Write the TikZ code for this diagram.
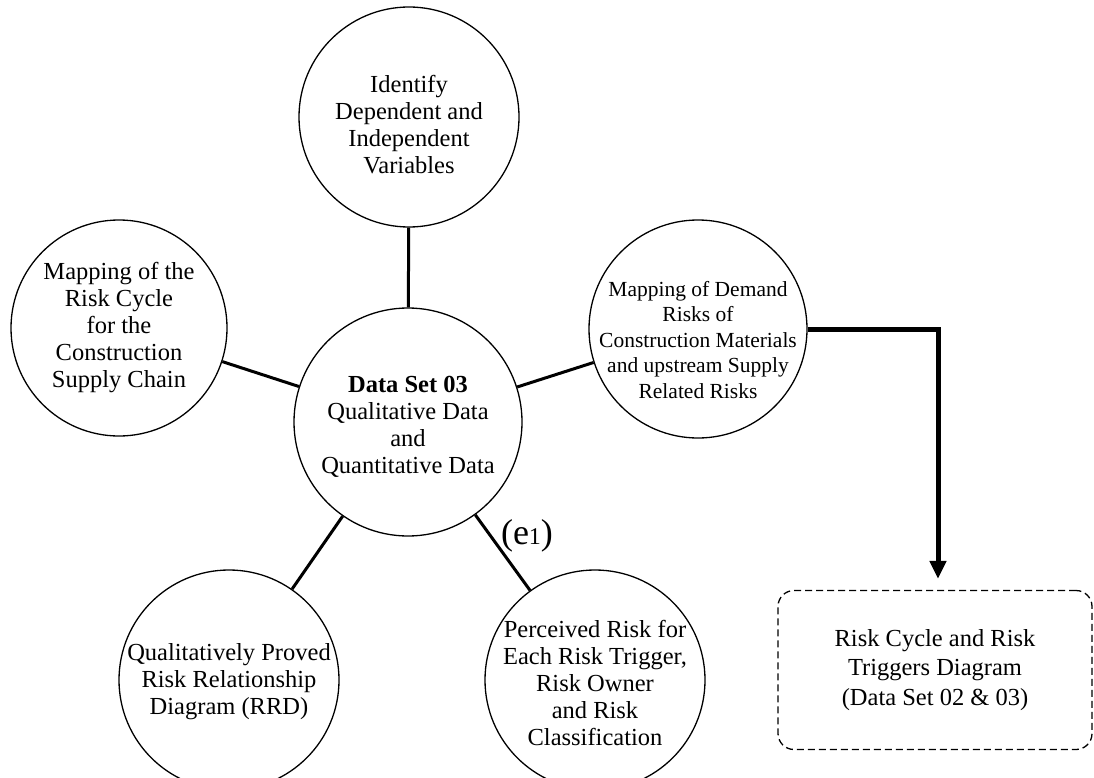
\documentclass[tikz,border=0pt]{standalone}
\usepackage{fontspec}
\setmainfont{Liberation Serif}
\usetikzlibrary{arrows.meta}

\begin{document}
\begin{tikzpicture}[x=1pt,y=-1pt,
  bubble/.style={draw, circle, line width=1.3pt, inner sep=0pt},
  caption/.style={align=center, inner sep=0pt,
    font=\fontsize{24.5}{27}\selectfont},
  link/.style={line width=3pt},
  outcome/.style={draw, rectangle, rounded corners=16pt, line width=1.3pt,
    dash pattern=on 7pt off 4pt, align=center, inner sep=0pt,
    minimum width=314pt, minimum height=159pt,
    font=\fontsize{24.5}{29.5}\selectfont},
  flow/.style={line width=5pt, -{Triangle[length=18pt,width=16pt]}}
]
\useasboundingbox (0,0) rectangle (1094,778);

% central data set
\node[bubble, minimum size=228pt] (hub) at (408,422) {};
\node[caption] (hub-t) at (408,427)
  {\textbf{Data Set 03}\\Qualitative Data\\and\\Quantitative Data};

% surrounding analyses
\node[bubble, minimum size=220pt] (vars) at (409,117) {};
\node[caption] (vars-t) at (409,125)
  {Identify\\Dependent and\\Independent\\Variables};

\node[bubble, minimum size=216pt] (cycle) at (119,328) {};
\node[caption] (cycle-t) at (119,328)
  {Mapping of the\\Risk Cycle\\for the\\Construction\\Supply Chain};

\node[bubble, minimum size=218pt] (demand) at (698,329) {};
\node[caption, font=\fontsize{21.5}{25.5}\selectfont] (demand-t) at (698,340)
  {Mapping of Demand\\Risks of\\Construction Materials\\and upstream Supply\\Related Risks};

\node[bubble, minimum size=220pt] (rrd) at (229,680) {};
\node[caption] (rrd-t) at (229,682)
  {Qualitatively Proved\\Risk Relationship\\Diagram (RRD)};

\node[bubble, minimum size=220pt] (perc) at (595,680) {};
\node[caption] (perc-t) at (595,683)
  {Perceived Risk for\\Each Risk Trigger,\\Risk Owner\\and Risk\\Classification};

% result box
\node[outcome] (diag) at (935,670)
  {Risk Cycle and Risk\\Triggers Diagram\\(Data Set 02 \& 03)};

% spokes
\draw[link] (hub) -- (vars);
\draw[link] (hub) -- (cycle);
\draw[link] (hub) -- (demand);
\draw[link] (hub) -- (rrd);
\draw[link] (hub) -- (perc);

\node[font=\fontsize{36}{38}\selectfont, inner sep=0pt] (elabel) at (527,536)
  {(e{\fontsize{24}{24}\selectfont 1})};

% flow into the diagram
\draw[flow, shorten >=11pt] (demand.east) -| ([xshift=3pt]diag.north);
\end{tikzpicture}
\end{document}
